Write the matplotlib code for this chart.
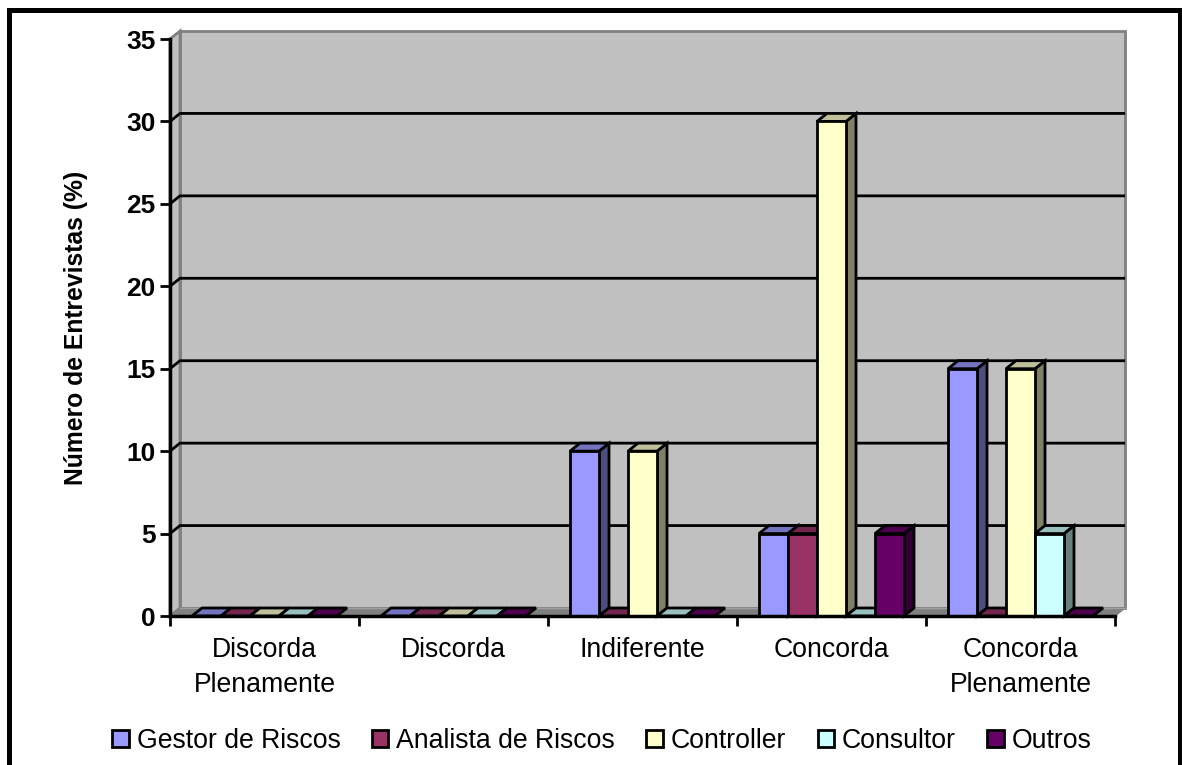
import matplotlib
matplotlib.use("Agg")
import matplotlib.pyplot as plt
from matplotlib.patches import Polygon, Patch, Rectangle
from matplotlib.colors import to_rgb

plt.rcParams['font.family'] = ['Liberation Sans', 'DejaVu Sans']

categories = ['Discorda\nPlenamente', 'Discorda', 'Indiferente', 'Concorda', 'Concorda\nPlenamente']
series_names = ['Gestor de Riscos', 'Analista de Riscos', 'Controller', 'Consultor', 'Outros']
gestor = [0, 0, 10, 5, 15]
analista = [0, 0, 0, 5, 0]
controller = [0, 0, 10, 30, 15]
consultor = [0, 0, 0, 0, 5]
outros = [0, 0, 0, 5, 0]
colors = ['#9999FF', '#993366', '#FFFFCC', '#CCFFFF', '#660066']
y_ticks = [0, 5, 10, 15, 20, 25, 30, 35]

W, H = 1182, 765
fig = plt.figure(figsize=(W / 100, H / 100), dpi=100)
# axes box = front plane of the fake 3d chart
ax = fig.add_axes([170 / W, 1 - 616 / H, 945 / W, 577 / H])
ax.set_xlim(0, 5)
ax.set_ylim(0, 35)
ax.patch.set_visible(False)

# depth of the 3d effect in data units (10 px right, 8 px up)
dx = 10 / 189
dy = 8 / (577 / 35)


def shade(c, f):
    return tuple(v * f for v in to_rgb(c))


def face(points, color, edge='black', lw=2, z=2):
    ax.add_patch(Polygon(points, closed=True, facecolor=color, edgecolor=edge,
                         linewidth=lw, clip_on=False, zorder=z, joinstyle='miter'))


# walls and floor
face([(dx, dy), (5 + dx, dy), (5 + dx, 35 + dy), (dx, 35 + dy)], '#C0C0C0', '#808080', 2, 1)
face([(0, 0), (dx, dy), (dx, 35 + dy), (0, 35)], '#C0C0C0', '#808080', 2, 1)
face([(0, 0), (5, 0), (5 + dx, dy), (dx, dy)], '#808080', '#808080', 1, 1)

for t in y_ticks[1:-1]:
    ax.plot([0, dx, 5 + dx], [t, t + dy, t + dy], color='black', lw=2, clip_on=False,
            zorder=1.5, solid_capstyle='butt')
ax.plot([dx, 5 + dx], [dy, dy], color='#A0A0A0', lw=1, clip_on=False, zorder=1.5)

# bars, left to right is enough for the overlaps
all_series = [gestor, analista, controller, consultor, outros]
bw = 29 / 189
gap = 22 / 189
for g in range(len(categories)):
    for s, values in enumerate(all_series):
        v = values[g]
        x0 = g + gap + s * bw
        x1 = x0 + bw
        c = colors[s]
        if v > 0:
            face([(x1, 0), (x1 + dx, dy), (x1 + dx, v + dy), (x1, v)], shade(c, 0.5), z=3)
        face([(x0, v), (x1, v), (x1 + dx, v + dy), (x0 + dx, v + dy)], shade(c, 0.75), z=3)
        if v > 0:
            face([(x0, 0), (x1, 0), (x1, v), (x0, v)], c, z=3)

for name in ['top', 'right']:
    ax.spines[name].set_visible(False)
for name in ['left', 'bottom']:
    ax.spines[name].set_linewidth(2.5)
    ax.spines[name].set_zorder(5)

ax.set_yticks(y_ticks)
ax.set_yticklabels([str(t) for t in y_ticks], fontsize=19, fontweight='bold')
ax.tick_params(axis='y', length=7.2, width=2, pad=3)
ax.set_xticks(range(6))
ax.set_xticklabels([])
ax.tick_params(axis='x', length=7.2, width=2)
ax.set_xticks([g + 0.5 for g in range(5)], minor=True)
ax.set_xticklabels(categories, minor=True, fontsize=19.2, linespacing=1.46)
ax.tick_params(axis='x', which='minor', length=0, pad=15)
ax.set_ylabel('Número de Entrevistas (%)', fontsize=17.8, fontweight='bold')
ax.yaxis.set_label_coords((88 - 170) / 945, (616 - 328) / 577)

handles = [Patch(facecolor=c, edgecolor='black', linewidth=2) for c in colors]
fig.legend(handles, series_names, loc='center', bbox_to_anchor=(602 / W, 1 - 741 / H), ncol=5,
           frameon=False, fontsize=19.2, handlelength=0.62, handleheight=0.62,
           handletextpad=0.3, columnspacing=1.17, borderpad=0, borderaxespad=0)

# outer black frame, bottom side runs off the picture
fig.add_artist(Rectangle((8.5 / W, -10 / H), 1171 / W, (H - 9.5 + 10) / H, fill=False, edgecolor='black',
                         linewidth=3.6, transform=fig.transFigure))

fig.savefig('out.png', dpi=100)
